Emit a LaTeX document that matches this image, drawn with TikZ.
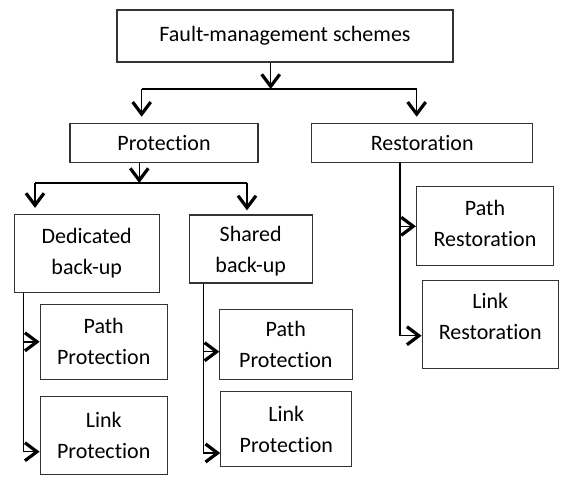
\documentclass[tikz,border=0pt]{standalone}
\usepackage{fontspec}
\setmainfont{Carlito}[Ligatures=NoCommon]
\usetikzlibrary{arrows.meta}
\tikzset{
  box/.style={draw=black!80, line width=0.6pt, align=center, inner sep=2pt,
    font=\fontsize{11}{15.5}\selectfont},
  link/.style={line width=0.7pt},
  arr/.style={link, -{Straight Barb[length=6pt,width=9pt,line width=1.6pt]}},
}
\begin{document}
\begin{tikzpicture}[x=0.5pt,y=-0.5pt]
\useasboundingbox (0,0) rectangle (568,482);
% boxes
\node[box, minimum width=168pt, minimum height=26pt] (fms) at (285,36) {Fault-management schemes};
\node[box, minimum width=94pt, minimum height=19.5pt] (prot) at (164,142.8) {Protection};
\node[box, minimum width=110.5pt, minimum height=19.5pt] (rest) at (422.2,142.8) {Restoration};
\node[box, minimum width=72.5pt, minimum height=39pt] (ded) at (86.7,253.5) {Dedicated\\back-up};
\node[box, minimum width=61.5pt, minimum height=34pt, text depth=0pt] (shr) at (250.7,249) {Shared\\back-up};
\node[box, minimum width=63.5pt, minimum height=37.5pt] (ppd) at (103.7,341.8) {Path\\Protection};
\node[box, minimum width=63.5pt, minimum height=39pt] (lpd) at (103.7,435.8) {Link\\Protection};
\node[box, minimum width=66.5pt, minimum height=35pt] (pps) at (285.8,344.2) {Path\\Protection};
\node[box, minimum width=65.5pt, minimum height=37.5pt] (lps) at (286.3,429.2) {Link\\Protection};
\node[box, minimum width=68.5pt, minimum height=39.5pt, text depth=3pt] (pr) at (485,226.3) {Path\\Restoration};
\node[box, minimum width=68pt, minimum height=44pt, text depth=8pt] (lr) at (490.2,324.5) {Link\\Restoration};
% junctions
\coordinate (j1) at (270.7,89);
\coordinate (j1l) at (141.7,89);
\coordinate (j1r) at (416.7,89);
\coordinate (j2) at (139.3,183);
\coordinate (j2l) at (35,183);
\coordinate (j2r) at (247,183);
\coordinate (dv) at (23.3,451.7);
\coordinate (sv) at (203.3,453);
\coordinate (sp) at (219.3,351.7);
\coordinate (rv) at (400,335.7);
% top level
\draw[arr] (j1 |- fms.south) -- (j1);
\draw[link] (j1l) -- (j1r);
\draw[arr, shorten >=3pt] (j1l) -- (j1l |- prot.north);
\draw[arr, shorten >=3pt] (j1r) -- (j1r |- rest.north);
% protection
\draw[arr] (j2 |- prot.south) -- (j2);
\draw[link] (j2l) -- (j2r);
\draw[arr, shorten >=3pt] (j2l) -- (j2l |- ded.north);
\draw[arr, shorten >=2pt] (j2r) -- (j2r |- shr.north);
% dedicated
\draw[link] (ded.south -| dv) -- (dv);
\draw[arr] (ppd.west -| dv) -- (ppd.west);
\draw[arr] (dv) -- (dv -| lpd.west);
% shared
\draw[link] (shr.south -| sv) -- (sv);
\draw[arr] (sp -| sv) -- (sp);
\draw[arr] (sv) -- (sv -| lps.west);
% restoration
\draw[link] (rest.south -| rv) -- (rv);
\draw[arr] (pr.west -| rv) -- (pr.west);
\draw[arr] (rv) -- (rv -| lr.west);
\end{tikzpicture}
\end{document}
